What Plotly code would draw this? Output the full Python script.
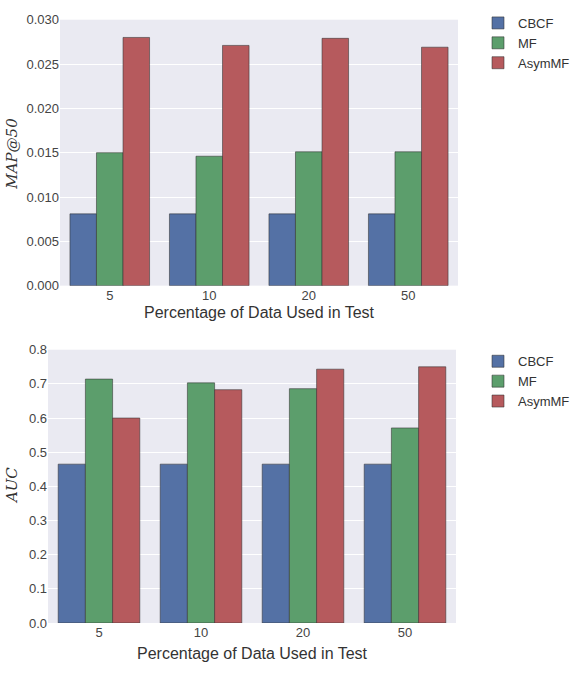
import plotly.graph_objects as go

categories = ["5", "10", "20", "50"]
series_names = ["CBCF", "MF", "AsymMF"]
map50_cbcf = [0.0081, 0.0081, 0.0081, 0.0081]
map50_mf = [0.0150, 0.0146, 0.0151, 0.0151]
map50_asym = [0.0280, 0.0271, 0.0279, 0.0269]
auc_cbcf = [0.465, 0.465, 0.465, 0.465]
auc_mf = [0.714, 0.703, 0.686, 0.571]
auc_asym = [0.600, 0.683, 0.743, 0.750]
colors = ["#5471A5", "#5C9E6C", "#B65A5D"]

W, H = 579, 675
fig = go.Figure()

for name, vals, c in zip(series_names, [map50_cbcf, map50_mf, map50_asym], colors):
    fig.add_trace(go.Bar(x=categories, y=vals, name=name, marker=dict(color=c, line=dict(color="rgba(50,50,50,0.55)", width=1)),
                         xaxis="x", yaxis="y", legend="legend"))
for name, vals, c in zip(series_names, [auc_cbcf, auc_mf, auc_asym], colors):
    fig.add_trace(go.Bar(x=categories, y=vals, name=name, marker=dict(color=c, line=dict(color="rgba(50,50,50,0.55)", width=1)),
                         xaxis="x2", yaxis="y2", legend="legend2"))

tick_font = dict(family="Liberation Sans, Arial", size=13, color="#444")
common_y = dict(showgrid=True, gridcolor="white", gridwidth=1, zeroline=False, showline=False, ticks="", tickfont=tick_font)
common_x = dict(showgrid=False, zeroline=False, showline=False, ticks="", tickfont=tick_font, type="category")

fig.update_layout(
    width=W, height=H,
    margin=dict(l=0, r=0, t=0, b=0),
    paper_bgcolor="white", plot_bgcolor="#EAEAF2",
    barmode="group", bargap=0.2, bargroupgap=0,
    xaxis=dict(domain=[60 / W, 458 / W], anchor="y", **common_x),
    yaxis=dict(domain=[1 - 285 / H, 1 - 13 / H], anchor="x", range=[0, 0.030], dtick=0.005, tickformat=".3f", **common_y),
    xaxis2=dict(domain=[48 / W, 456 / W], anchor="y2", **common_x),
    yaxis2=dict(domain=[1 - 630 / H, 1 - 350.5 / H], anchor="x2", range=[0, 0.8], dtick=0.1, tickformat=".1f", **common_y),
    legend=dict(x=478 / W, y=1 - 1 / H, xanchor="left", yanchor="top", font=dict(family="Liberation Sans, Arial", size=13, color="#333"),
                bgcolor="rgba(0,0,0,0)", tracegroupgap=0, itemwidth=30),
    legend2=dict(x=478 / W, y=1 - 347 / H, xanchor="left", yanchor="top", font=dict(family="Liberation Sans, Arial", size=13, color="#333"),
                 bgcolor="rgba(0,0,0,0)", tracegroupgap=0, itemwidth=30),
)

title_font = dict(family="Liberation Sans, Arial", size=16, color="#333")
fig.add_annotation(text="Percentage of Data Used in Test", x=259 / W, y=1 - 312 / H, xref="paper", yref="paper",
                   showarrow=False, font=title_font, xanchor="center", yanchor="middle")
fig.add_annotation(text="Percentage of Data Used in Test", x=252 / W, y=1 - 661 / H, xref="paper", yref="paper",
                   showarrow=False, font=title_font, xanchor="center", yanchor="middle")
serif = dict(family="DejaVu Serif, Liberation Serif", size=15, color="#333")
fig.add_annotation(text="<i>MAP@50</i>", x=12 / W, y=1 - 150 / H, xref="paper", yref="paper", textangle=-90,
                   showarrow=False, font=serif, xanchor="center", yanchor="middle")
fig.add_annotation(text="<i>AUC</i>", x=12 / W, y=1 - 490 / H, xref="paper", yref="paper", textangle=-90,
                   showarrow=False, font=serif, xanchor="center", yanchor="middle")

fig.write_html("out.html")
